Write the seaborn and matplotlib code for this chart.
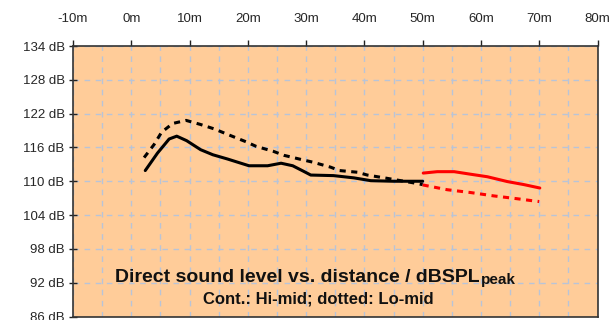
import matplotlib
matplotlib.use("Agg")
import matplotlib.pyplot as plt
import seaborn as sns
import pandas as pd
import numpy as np
from matplotlib.ticker import MultipleLocator

# Hi-mid (continuous), black part
hi_x = [2.4, 4.5, 6.5, 7.8, 9.5, 11.9, 14.0, 16.5, 18.5, 20.2, 23.4, 25.7, 27.7, 29.5, 30.8, 34.7, 38.2, 41.1, 45.0, 50.0]
hi_y = [111.9, 115.0, 117.5, 118.0, 117.2, 115.6, 114.7, 113.95, 113.3, 112.75, 112.75, 113.2, 112.75, 111.8, 111.1, 111.0, 110.6, 110.1, 110.0, 110.0]
# Lo-mid (dotted), black part
lo_x = [2.2, 3.9, 5.2, 7.1, 9.4, 11.8, 14.2, 16.8, 19.7, 21.4, 24.4, 26.2, 29.4, 31.1, 34.2, 35.7, 38.8, 40.5, 44.0, 48.5, 50.0]
lo_y = [114.2, 116.5, 118.7, 120.25, 120.8, 120.1, 119.3, 118.2, 117.0, 116.2, 115.3, 114.6, 113.8, 113.4, 112.5, 111.9, 111.6, 111.1, 110.5, 109.7, 109.4]
# Red continuation
hi_red_x = [50.1, 52.5, 55.4, 58.2, 61.1, 64.5, 67.4, 70.1]
hi_red_y = [111.45, 111.7, 111.7, 111.25, 110.8, 109.95, 109.4, 108.8]
lo_red_x = [50.0, 54.2, 58.2, 62.2, 66.2, 68.4, 70.0]
lo_red_y = [109.35, 108.5, 108.0, 107.4, 106.9, 106.6, 106.4]

x_ticks = list(range(-10, 81, 10))
y_ticks = list(range(86, 135, 6))

sns.set_theme(style="white")
plt.rcParams['font.family'] = ['Liberation Sans', 'DejaVu Sans']

W, H = 612, 320
fig = plt.figure(figsize=(W / 100, H / 100), dpi=100)
fig.patch.set_facecolor('white')
ax = fig.add_axes([73/W, 1-316.5/H, (597.5-73)/W, (316.5-46)/H])
ax.set_facecolor('#FFCC99')

dot = (0, (2.0, 1.8))
sns.lineplot(x=hi_x, y=hi_y, ax=ax, color='black', lw=2.2, sort=False)
sns.lineplot(x=lo_x, y=lo_y, ax=ax, color='black', lw=2.2, sort=False, linestyle=dot)
sns.lineplot(x=hi_red_x, y=hi_red_y, ax=ax, color='#FF0000', lw=2.2, sort=False)
sns.lineplot(x=lo_red_x, y=lo_red_y, ax=ax, color='#FF0000', lw=2.2, sort=False, linestyle=dot)

ax.set_xlim(-10, 80)
ax.set_ylim(86, 134)
ax.set_xticks(x_ticks)
ax.set_yticks(y_ticks)
ax.xaxis.set_minor_locator(MultipleLocator(5))
ax.xaxis.tick_top()
ax.xaxis.set_label_position('top')
ax.set_xticklabels([f"{v}m" for v in x_ticks])
ax.set_yticklabels([f"{v} dB" for v in y_ticks])
ax.tick_params(axis='x', which='major', direction='out', length=4, width=1, color='#222222',
               labelsize=9.5, pad=11, top=True, bottom=False)
ax.tick_params(axis='x', which='minor', length=0, top=False, bottom=False)
ax.tick_params(axis='y', which='major', direction='inout', length=6, width=1, color='#222222',
               labelsize=9.5, pad=3, left=True)

ax.grid(True, which='both', axis='x', color='#B8C4D8', linestyle=(0, (4, 4)), lw=1)
ax.grid(True, which='major', axis='y', color='#B8C4D8', linestyle=(0, (4, 4)), lw=1)
ax.set_axisbelow(True)

for s in ax.spines.values():
    s.set_color('#333333')
    s.set_linewidth(1.2)
    s.set_visible(True)

ax.set_xlabel('')
ax.set_ylabel('')

fam = ['Liberation Sans', 'DejaVu Sans']
t1 = fig.text(115/W, 1-277/H, "Direct sound level vs. distance / dBSPL", ha='left', va='center',
              fontsize=14, fontweight='bold', family=fam, color='#111111')
fig.canvas.draw()
ext = t1.get_window_extent(renderer=fig.canvas.get_renderer())
fig.text(ext.x1 / W + 1/W, 1-280/H, "peak", ha='left', va='center', fontsize=11,
         fontweight='bold', family=fam, color='#111111')
fig.text(318/W, 1-299/H, "Cont.: Hi-mid; dotted: Lo-mid", ha='center', va='center',
         fontsize=12, fontweight='bold', family=fam, color='#111111')

fig.savefig('out.png', dpi=100)
